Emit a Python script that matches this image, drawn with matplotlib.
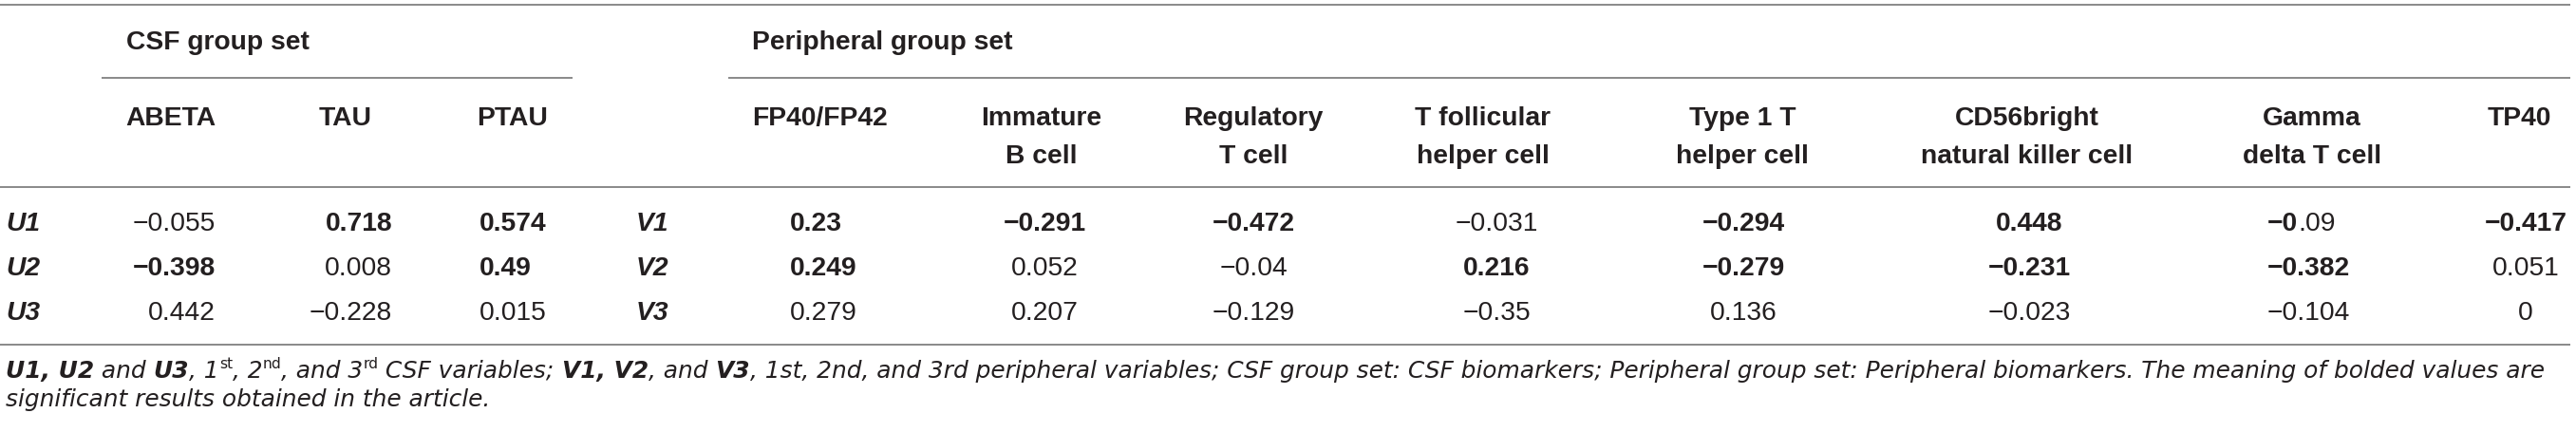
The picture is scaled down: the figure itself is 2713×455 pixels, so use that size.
import matplotlib
matplotlib.use("Agg")
import matplotlib.pyplot as plt

# ---------------- data ----------------
csf_title = "CSF group set"
per_title = "Peripheral group set"
csf_cols = ["ABETA", "TAU", "PTAU"]
csf_rows = ["U1", "U2", "U3"]
csf_vals = [[-0.055, 0.718, 0.574],
            [-0.398, 0.008, 0.49],
            [0.442, -0.228, 0.015]]
csf_bold = [[0, 1, 1],
            [1, 0, 1],
            [0, 0, 0]]
per_cols = ["FP40/FP42", "Immature\nB cell", "Regulatory\nT cell",
            "T follicular\nhelper cell", "Type 1 T\nhelper cell",
            "CD56bright\nnatural killer cell", "Gamma\ndelta T cell", "TP40"]
per_rows = ["V1", "V2", "V3"]
per_vals = [[0.23, -0.291, -0.472, -0.031, -0.294, 0.448, -0.09, -0.417],
            [0.249, 0.052, -0.04, 0.216, -0.279, -0.231, -0.382, 0.051],
            [0.279, 0.207, -0.129, -0.35, 0.136, -0.023, -0.104, 0]]
# 1 = bold, 2 = only the sign and integer part bold
per_bold = [[1, 1, 1, 0, 1, 1, 2, 1],
            [1, 0, 0, 1, 1, 1, 1, 0],
            [0, 0, 0, 0, 0, 0, 0, 0]]
footnote_line1 = [
    ("U1, U2", "bi"), (" and ", "i"), ("U3", "bi"), (", 1", "i"), ("st", "sup"),
    (", 2", "i"), ("nd", "sup"), (", and 3", "i"), ("rd", "sup"),
    (" CSF variables; ", "i"), ("V1, V2", "bi"), (", and ", "i"), ("V3", "bi"),
    (", 1st, 2nd, and 3rd peripheral variables; CSF group set: CSF biomarkers; "
     "Peripheral group set: Peripheral biomarkers. The meaning of bolded values are", "i"),
]
footnote_line2 = [("significant results obtained in the article.", "i")]

# ---------------- style / layout ----------------
W, H = 2713, 455
DPI = 100
FONT = "Liberation Sans"
FOOT_FONT = "DejaVu Sans"
TXT = "#231f20"
LINE = "#808080"
FS = 20.3      # points, table text

fig = plt.figure(figsize=(W / DPI, H / DPI), dpi=DPI)
ax = fig.add_axes([0, 0, 1, 1])
ax.set_xlim(0, W)
ax.set_ylim(H, 0)
ax.axis("off")


def fmt(v):
    s = f"{v:g}"
    return s.replace("-", "\u2212")


def put(x, y, s, ha="left", bold=False, italic=False, size=FS, family=FONT):
    return ax.text(x, y, s, ha=ha, va="baseline", fontsize=size, color=TXT,
                   family=family, fontweight="bold" if bold else "normal",
                   fontstyle="italic" if italic else "normal")


def hline(y, x0, x1):
    ax.plot([x0, x1], [y, y], color=LINE, lw=1.3, solid_capstyle="butt")


# rules
hline(5, 0, 2707)
hline(82, 107, 603)
hline(82, 767, 2707)
hline(197, 0, 2707)
hline(363, 0, 2707)

# group titles
put(133, 52, csf_title, bold=True)
put(792, 52, per_title, bold=True)

# header positions: (x, align) for header, (x, align) for values
csf_hdr = [(227, "right"), (336, "left"), (577, "right")]
csf_val = [(227, "right"), (413, "right"), (505, "left")]
per_hdr = [(792, "left"), (1097, "center"), (1320, "center"), (1562, "center"),
           (1835, "center"), (2135, "center"), (2435, "center"), (2653, "center")]
per_val = [(832, "left"), (1100, "center"), (1320, "center"), (1576, "center"),
           (1836, "center"), (2137, "center"), (2388, "left"), (2660, "center")]

HDR_Y1, HDR_Y2 = 132, 172
ROW_Y = [243, 290, 337]


def header(x, ha, label):
    lines = label.split("\n")
    for k, ln in enumerate(lines):
        put(x, HDR_Y1 if k == 0 else HDR_Y2, ln, ha=ha, bold=True)


for (x, ha), c in zip(csf_hdr, csf_cols):
    header(x, ha, c)
for (x, ha), c in zip(per_hdr, per_cols):
    header(x, ha, c)

renderer = fig.canvas.get_renderer()


def value(x, ha, v, b, y):
    s = fmt(v)
    if b == 2:
        head, tail = s.split(".")
        t1 = put(0, y, head, bold=True)
        t2 = put(0, y, "." + tail, bold=False)
        w1 = t1.get_window_extent(renderer).width
        w2 = t2.get_window_extent(renderer).width
        tot = w1 + w2
        x0 = x if ha == "left" else (x - tot / 2 if ha == "center" else x - tot)
        t1.set_x(x0)
        t2.set_x(x0 + w1)
    else:
        put(x, y, s, ha=ha, bold=bool(b))


for i, r in enumerate(csf_rows):
    put(6, ROW_Y[i], r, bold=True, italic=True)
    for j, (x, ha) in enumerate(csf_val):
        value(x, ha, csf_vals[i][j], csf_bold[i][j], ROW_Y[i])
for i, r in enumerate(per_rows):
    put(670, ROW_Y[i], r, bold=True, italic=True)
    for j, (x, ha) in enumerate(per_val):
        value(x, ha, per_vals[i][j], per_bold[i][j], ROW_Y[i])


def run(segments, x, y, size):
    objs = []
    for s, kind in segments:
        if kind == "sup":
            t = ax.text(x, y - 0.55 * size, s, ha="left", va="baseline",
                        fontsize=size * 0.62, color=TXT, family=FOOT_FONT)
        else:
            t = put(x, y, s, bold=(kind == "bi"), italic=True, size=size,
                    family=FOOT_FONT)
        objs.append(t)
        x += t.get_window_extent(renderer).width
    return objs, x


# fit footnote line 1 to the table width
X0, X1 = 6, 2694
base = 16.0
objs, xend = run(footnote_line1, X0, 398, base)
for o in objs:
    o.remove()
fsz = base * (X1 - X0) / (xend - X0)
run(footnote_line1, X0, 398, fsz)
run(footnote_line2, X0, 428, fsz)

fig.savefig("out.png", dpi=DPI)
